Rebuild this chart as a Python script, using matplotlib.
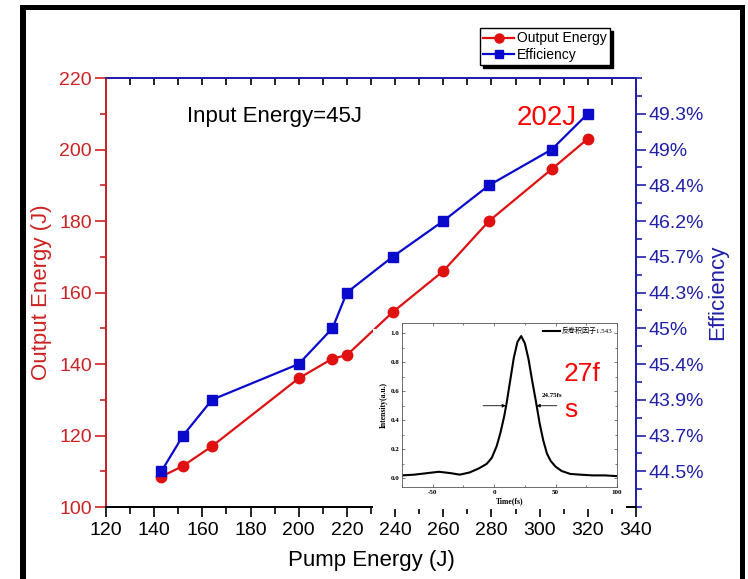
import matplotlib
matplotlib.use('Agg')
import matplotlib.pyplot as plt
from matplotlib.patches import Rectangle
from matplotlib.lines import Line2D
from matplotlib.ticker import MultipleLocator

plt.rcParams['font.family'] = ['Liberation Sans', 'Noto Sans CJK SC', 'DejaVu Sans']
plt.rcParams['axes.unicode_minus'] = False

# main data: pump energy (J) vs output energy (J)
pump_energy = [143, 152, 164, 200, 214, 220, 239, 260, 279, 305, 320]
output_energy = [108.5, 111.5, 117, 136, 141.5, 142.5, 154.5, 166, 180, 194.5, 203]

# efficiency series: plotted on the right axis at evenly spaced tick slots
eff_slots = [110, 120, 130, 140, 150, 160, 170, 180, 190, 200, 210]
eff_labels = ['44.5%', '43.7%', '43.9%', '45.4%', '45%', '44.3%',
              '45.7%', '46.2%', '48.4%', '49%', '49.3%']

# inset: retrieved pulse trace
pulse_t = [-75, -65, -55, -45, -35, -28, -20, -12, -6, -2, 2, 5, 8, 10, 13,
           16, 19, 22, 25, 28, 31, 34, 37, 40, 43, 46, 50, 55, 62, 70, 80, 90, 100]
pulse_i = [0.02, 0.025, 0.035, 0.045, 0.035, 0.025, 0.04, 0.07, 0.10, 0.14,
           0.22, 0.31, 0.42, 0.51, 0.67, 0.83, 0.94, 0.98, 0.93, 0.82, 0.67,
           0.53, 0.38, 0.26, 0.17, 0.12, 0.08, 0.05, 0.03, 0.025, 0.02, 0.02, 0.015]

RED = '#e01010'
RED_AX = '#cc2222'
BLUE = '#0a0acc'
BLUE_AX = '#2020a8'

fig = plt.figure(figsize=(7.48, 5.79), dpi=100)
W, H = 748, 579


def fx(px):
    return px / W


def fy(py):
    return 1 - py / H


ax = fig.add_axes([fx(106), fy(507), fx(636) - fx(106), fy(78) - fy(507)])
ax2 = ax.twinx()

ax.plot(pump_energy, output_energy, color=RED, lw=1.6, marker='o', ms=7.5,
        mfc=RED, mec=RED, zorder=3)
ax2.plot(pump_energy, eff_slots, color=BLUE, lw=1.6, marker='s', ms=6.5,
         mfc=BLUE, mec=BLUE, zorder=3)

ax.set_xlim(120, 340)
ax.set_ylim(100, 220)
ax2.set_ylim(100, 220)
ax.xaxis.set_major_locator(MultipleLocator(20))
ax.xaxis.set_minor_locator(MultipleLocator(10))
ax.yaxis.set_major_locator(MultipleLocator(20))
ax.yaxis.set_minor_locator(MultipleLocator(10))
ax2.set_yticks(eff_slots)
ax2.set_yticklabels(eff_labels)
ax2.yaxis.set_minor_locator(MultipleLocator(5))

for a in (ax, ax2):
    a.spines['top'].set_color(BLUE_AX)
    a.spines['right'].set_color(BLUE_AX)
    a.spines['left'].set_color(RED_AX)
    a.spines['bottom'].set_color('black')
    for sp in a.spines.values():
        sp.set_linewidth(1.3)

ax.tick_params(axis='x', which='major', direction='out', length=7, width=1.2,
               labelsize=14, colors='black', pad=4)
ax.tick_params(axis='x', which='minor', direction='out', length=5, width=1.2)
ax.tick_params(axis='x', which='both', top=True)
ax.tick_params(axis='y', which='major', direction='out', length=8, width=1.2,
               labelsize=14, colors=RED_AX, pad=2)
ax.tick_params(axis='y', which='minor', direction='out', length=4, width=1.2,
               colors=RED_AX)
ax2.tick_params(axis='y', which='major', direction='out', length=7, width=1.2,
                labelsize=14, colors=BLUE_AX, pad=2)
ax2.tick_params(axis='y', which='minor', direction='out', length=4, width=1.2,
                colors=BLUE_AX)

# top spine ticks point inward, blue
for t in ax.xaxis.get_major_ticks() + ax.xaxis.get_minor_ticks():
    t.tick2line.set_color(BLUE_AX)
    t.tick2line.set_marker(3)
    t.tick2line.set_markersize(5)

ax.set_xlabel('Pump Energy (J)', fontsize=16, labelpad=8)
ax.set_ylabel('Output Energy (J)', fontsize=16, color=RED_AX, labelpad=5)
ax2.set_ylabel('Efficiency', fontsize=16, color=BLUE_AX, labelpad=2)

ax.text(153.7, 209.1, 'Input Energy=45J', fontsize=16, va='center', ha='left')
ax.text(290.5, 208.8, '202J', fontsize=20, color='#ff0000', va='center', ha='left')

# legend with black drop shadow
handles = [Line2D([], [], color=RED, lw=1.6, marker='o', ms=6.5),
           Line2D([], [], color=BLUE, lw=1.6, marker='s', ms=5.5)]
fig.legend(handles, ['Output Energy', 'Efficiency'], loc='upper left',
           bbox_to_anchor=(fx(480), fy(28)), borderaxespad=0, fontsize=10,
           fancybox=False, edgecolor='black', framealpha=1,
           shadow={'color': 'black', 'alpha': 1}, handlelength=2.2,
           borderpad=0.25, labelspacing=0.15, handletextpad=0.2)

# inset picture background
fig.add_artist(Rectangle((fx(373), fy(509)), fx(626) - fx(373), fy(329) - fy(509),
                         transform=fig.transFigure, facecolor='white',
                         edgecolor='none', zorder=1))

axi = fig.add_axes([fx(402), fy(487), fx(617) - fx(402), fy(323) - fy(487)])
axi.set_zorder(2)
axi.plot(pulse_t, pulse_i, color='black', lw=1.5, label='反卷积因子1.543')
axi.set_xlim(-75, 100)
axi.set_ylim(-0.06, 1.07)
axi.set_xticks([-50, 0, 50, 100])
axi.set_yticks([0.0, 0.2, 0.4, 0.6, 0.8, 1.0])
axi.xaxis.set_minor_locator(MultipleLocator(25))
axi.yaxis.set_minor_locator(MultipleLocator(0.1))
axi.tick_params(which='both', direction='in', top=True, right=True, width=0.5,
                colors='#444444', labelcolor='black', labelsize=5, pad=2)
axi.tick_params(which='major', length=2.5)
axi.tick_params(which='minor', length=1.5)
for lab in axi.get_xticklabels() + axi.get_yticklabels():
    lab.set_fontfamily('Liberation Serif')
    lab.set_fontweight('bold')
for sp in axi.spines.values():
    sp.set_linewidth(0.6)
    sp.set_color('#555555')
axi.set_xlabel('Time(fs)', fontsize=5.5, fontweight='bold',
               family='Liberation Serif', labelpad=2)
axi.set_ylabel('Intensity(a.u.)', fontsize=5.5, fontweight='bold',
               family='Liberation Serif', labelpad=2)
axi.legend(loc='upper right', frameon=False, handlelength=2.4,
           prop={'family': ['Liberation Serif', 'Noto Sans CJK SC'], 'size': 5},
           borderaxespad=0.2, handletextpad=0.3)
axi.annotate('', xy=(9.5, 0.5), xytext=(-9, 0.5),
             arrowprops=dict(arrowstyle='-|>', color='black', lw=0.6,
                             mutation_scale=5, shrinkA=0, shrinkB=0))
axi.annotate('', xy=(34.5, 0.5), xytext=(51, 0.5),
             arrowprops=dict(arrowstyle='-|>', color='black', lw=0.6,
                             mutation_scale=5, shrinkA=0, shrinkB=0))
axi.text(38.5, 0.55, '24.75fs', fontsize=5, fontweight='bold',
         family='Liberation Serif', va='bottom', ha='left')

fig.text(fx(564), fy(374), '27f', fontsize=19, color='#ff0000', va='center',
         ha='left', zorder=5)
fig.text(fx(564), fy(410), 's', fontsize=19, color='#ff0000', va='center',
         ha='left', zorder=5)

# black picture frame
for (x0, y0, x1, y1) in [(20, 5, 745, 10), (20, 5, 26, 579), (740, 5, 745, 579)]:
    fig.add_artist(Rectangle((fx(x0), fy(y1)), fx(x1) - fx(x0), fy(y0) - fy(y1),
                             transform=fig.transFigure, facecolor='black',
                             edgecolor='none', zorder=6))

fig.savefig('out.png', dpi=100)
